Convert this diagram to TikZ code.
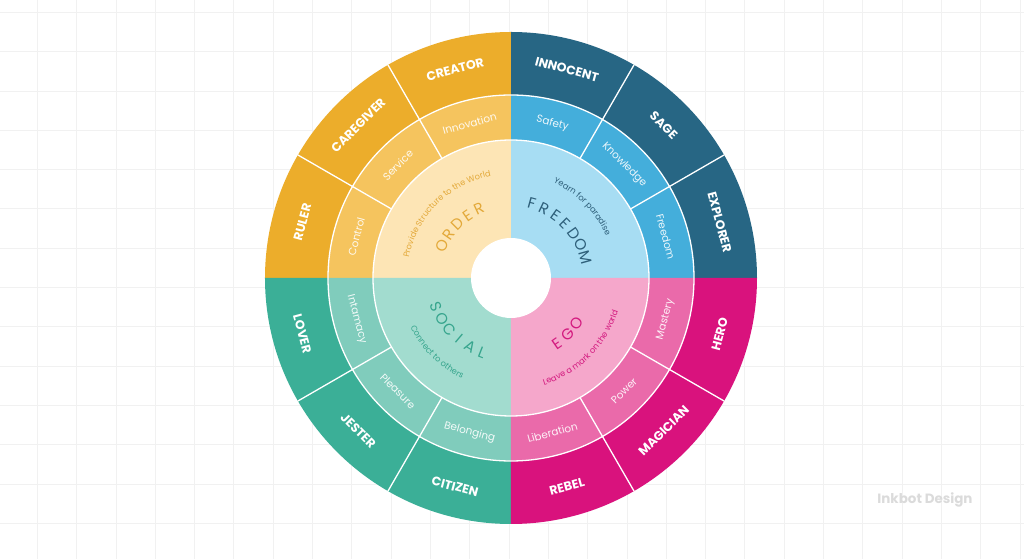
\documentclass[tikz,border=0pt]{standalone}
\usepackage{fontspec}
\setmainfont{Poppins}
\usetikzlibrary{decorations.text}

\definecolor{ordOut}{HTML}{ECAD2B}
\definecolor{ordMid}{HTML}{F5C45E}
\definecolor{ordIn}{HTML}{FDE5B5}
\definecolor{ordTxt}{HTML}{E3A93A}
\definecolor{freOut}{HTML}{276684}
\definecolor{freMid}{HTML}{44AEDB}
\definecolor{freIn}{HTML}{A7DDF3}
\definecolor{freTxt}{HTML}{2E5F7A}
\definecolor{socOut}{HTML}{3BAF97}
\definecolor{socMid}{HTML}{80CCBC}
\definecolor{socIn}{HTML}{A2DCCF}
\definecolor{socTxt}{HTML}{36A58D}
\definecolor{egoOut}{HTML}{D9127D}
\definecolor{egoMid}{HTML}{EA6AAA}
\definecolor{egoIn}{HTML}{F5A7CB}
\definecolor{egoTxt}{HTML}{D31A7F}
\definecolor{gridGray}{HTML}{F1F1F1}

\newcommand\mottofont{\fontsize{8.3}{9}\selectfont}

\begin{document}
\begin{tikzpicture}[x=1bp, y=1bp,
    gridline/.style={draw=gridGray, line width=1bp},
    sep/.style={draw=white, line width=1.3bp},
    archetype/.style={text=white, inner sep=0pt, font=\bfseries\fontsize{12.5}{14}\selectfont},
    motive/.style={text=white, opacity=.9, inner sep=0pt, font=\fontsize{10.5}{12}\selectfont},
    letter/.style={inner sep=0pt, font=\fontsize{15.5}{17}\selectfont}]
  \useasboundingbox (-511,-281) rectangle (513,278);
  \fill[white] (-511,-281) rectangle (513,278);
  % background grid
  \foreach \k in {0,...,25}
    \draw[gridline] ({37.5+39.3*\k-511},-281) -- ++(0,559);
  \foreach \k in {0,...,13}
    \draw[gridline] (-511,{265.5-39.3*\k}) -- ++(1024,0);

  % quadrants: start angle / outer / middle / inner colour
  \foreach \a/\co/\cm/\ci in {0/freOut/freMid/freIn, 90/ordOut/ordMid/ordIn,
      180/socOut/socMid/socIn, 270/egoOut/egoMid/egoIn} {
    \fill[\co] (\a:183) arc[start angle=\a, end angle=\a+90, radius=183]
      -- ({\a+90}:246) arc[start angle=\a+90, end angle=\a, radius=246] -- cycle;
    \fill[\cm] (\a:138) arc[start angle=\a, end angle=\a+90, radius=138]
      -- ({\a+90}:183) arc[start angle=\a+90, end angle=\a, radius=183] -- cycle;
    \fill[\ci] (0,0) -- (\a:138) arc[start angle=\a, end angle=\a+90, radius=138] -- cycle;
  }
  \fill[white] (0,0) circle[radius=40];

  % white separators
  \draw[sep] (0,0) circle[radius=138] (0,0) circle[radius=183];
  \foreach \a in {30,60,120,150,210,240,300,330}
    \draw[sep] (\a:138) -- (\a:246);

  % outer ring: archetypes
  \foreach \ang/\txt in {75/INNOCENT, 45/SAGE, 15/EXPLORER, 105/CREATOR, 135/CAREGIVER,
      165/RULER, 195/LOVER, 225/JESTER, 255/CITIZEN, 285/REBEL, 315/MAGICIAN, 345/HERO} {
    \pgfmathsetmacro\rot{\ang<180 ? \ang-90 : \ang-270}
    \node[archetype, rotate=\rot] (arch-\ang) at (\ang:216) {\txt};
  }

  % middle ring: motives
  \foreach \ang/\txt in {75/Safety, 45/Knowledge, 15/Freedom, 105/Innovation, 135/Service,
      165/Control, 195/Intamacy, 225/Pleasure, 255/Belonging, 285/Liberation, 315/Power, 345/Mastery} {
    \pgfmathsetmacro\rot{\ang<180 ? \ang-90 : \ang-270}
    \node[motive, rotate=\rot] (motive-\ang) at (\ang:160) {\txt};
  }

  % inner ring: spaced titles
  \foreach \ch [count=\i] in {F,R,E,E,D,O,M}
    \node[letter, text=freTxt, rotate={(4-\i)*9.8-45}] (fre-\i) at ({45+(4-\i)*9.8}:77) {\ch};
  \foreach \ch [count=\i] in {O,R,D,E,R}
    \node[letter, text=ordTxt, rotate={(3-\i)*10+45}] (ord-\i) at ({135+(3-\i)*10}:76) {\ch};
  \foreach \ch [count=\i] in {S,O,C,I,A,L}
    \node[letter, text=socTxt, rotate={-45-(3.5-\i)*9.5}] (soc-\i) at ({225-(3.5-\i)*9.5}:80) {\ch};
  \foreach \ch [count=\i] in {E,G,O}
    \node[letter, text=egoTxt, rotate={45-(2-\i)*10}] (ego-\i) at ({315-(2-\i)*10}:80) {\ch};

  % inner ring: mottos along the arcs
  \path[decorate, decoration={text along path, text align=center,
      text={|\mottofont\color{freTxt}|Yearn for paradise}}]
    (85:104) arc[start angle=85, end angle=5, radius=104];
  \path[decorate, decoration={text along path, text align=center,
      text={|\mottofont\color{ordTxt}|Provide Structure to the World}}]
    (175:104) arc[start angle=175, end angle=95, radius=104];
  \path[decorate, decoration={text along path, text align=center,
      text={|\mottofont\color{socTxt}|Connect to others}}]
    (185:112) arc[start angle=185, end angle=265, radius=112];
  \path[decorate, decoration={text along path, text align=center,
      text={|\mottofont\color{egoTxt}|Leave a mark on the world}}]
    (275:112) arc[start angle=275, end angle=355, radius=112];

  \node[text=black!14, font=\bfseries\fontsize{13.5}{15}\selectfont] (inkbot) at (414,-222) {Inkbot Design};
\end{tikzpicture}
\end{document}
